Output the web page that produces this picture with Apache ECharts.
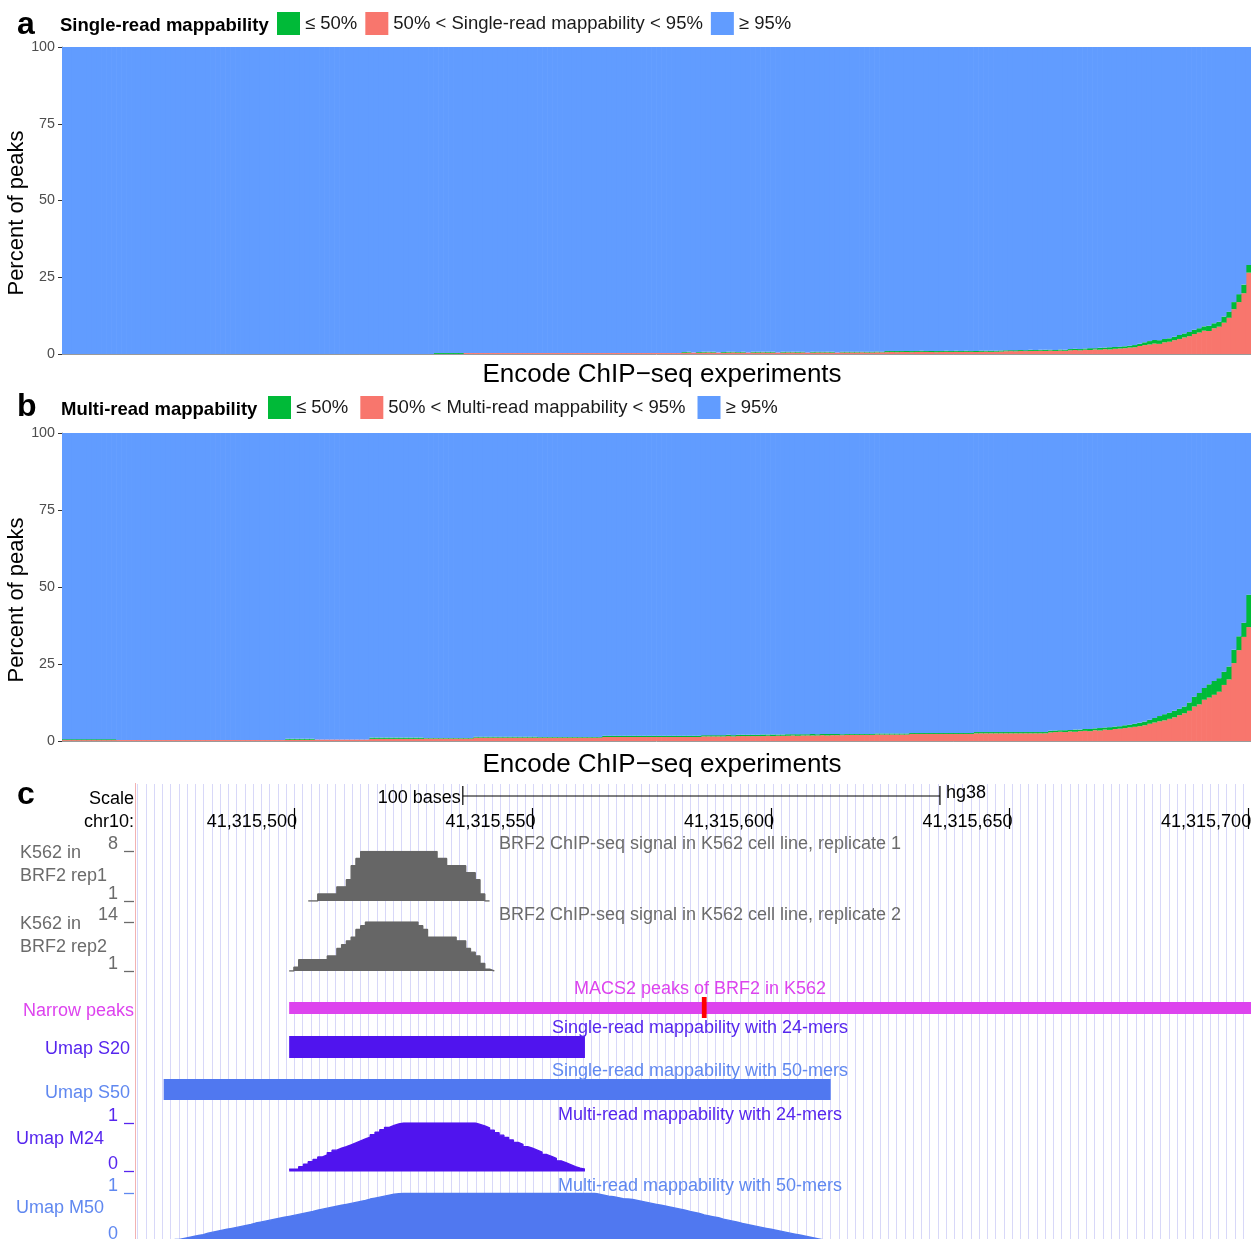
<!DOCTYPE html>
<html>
<head>
<meta charset="utf-8">
<script src="https://cdn.jsdelivr.net/npm/echarts@6/dist/echarts.min.js"></script>
<style>
  html, body { margin: 0; padding: 0; background: #ffffff; }
  #chart { width: 1251px; height: 1239px; }
</style>
</head>
<body>
<div id="chart"></div>
<script>
// ---------- Panel a: single-read mappability, percent of peaks per experiment ----------
// peaks with 50% < mappability < 95%
const singleMid = [
  0,0,0,0,0,0,0,0,0,0,0,0,0,0,0,0,0,0,0,0,
  0,0,0,0,0,0,0,0,0,0,0,0,0,0,0,0,0,0,0,0,
  0,0,0,0,0,0,0,0,0,0,0,0,0,0,0,0,0,0,0,0,
  0,0,0,0,0,0,0,0,0,0,0,0,0,0,0,0,0,0,0,0,
  0,0.3,0.3,0.3,0.3,0.3,0.3,0.3,0.3,0.3,0.3,0.3,0.3,0.3,0.3,0.3,0.3,0.3,0.3,0.3,
  0.3,0.3,0.3,0.3,0.3,0.3,0.3,0.3,0.3,0.3,0.3,0.3,0.3,0.3,0.3,0.3,0.3,0.3,0.3,0.3,
  0.3,0.3,0.3,0.3,0.3,0.4,0.45,0.45,0.4,0.45,0.5,0.45,0.45,0.4,0.45,0.5,0.45,0.45,0.5,0.45,
  0.45,0.5,0.45,0.45,0.5,0.45,0.5,0.5,0.45,0.5,0.5,0.45,0.5,0.5,0.5,0.45,0.5,0.5,0.5,0.5,
  0.5,0.55,0.5,0.5,0.55,0.55,0.6,0.65,0.6,0.65,0.65,0.6,0.65,0.7,0.65,0.65,0.6,0.65,0.7,0.65,
  0.7,0.65,0.7,0.7,0.65,0.7,0.75,0.7,0.75,0.8,0.9,0.95,0.9,1.0,0.95,1.0,1.0,1.05,1.0,1.1,
  1.0,1.1,1.05,1.2,1.3,1.2,1.4,1.3,1.5,1.4,1.6,1.5,1.7,1.8,1.9,2.1,2.2,2.6,2.9,3.1,
  3.4,3.3,3.8,4.0,4.5,4.9,5.4,5.8,6.5,7.0,7.6,7.5,8.4,8.9,10.2,11.8,14.6,16.9,19.8,26.5
];
// peaks with mappability <= 50%
const singleLow = [
  0,0,0,0,0,0,0,0,0,0,0,0,0,0,0,0,0,0,0,0,
  0,0,0,0,0,0,0,0,0,0,0,0,0,0,0,0,0,0,0,0,
  0,0,0,0,0,0,0,0,0,0,0,0,0,0,0,0,0,0,0,0,
  0,0,0,0,0,0,0,0,0,0,0,0,0,0,0,0.3,0.3,0.3,0.3,0.3,
  0.3,0,0,0,0,0,0,0,0,0,0,0,0,0,0,0,0,0,0,0,
  0,0,0,0,0,0,0,0,0,0,0,0,0,0,0,0,0,0,0,0,
  0,0,0,0,0,0.25,0.25,0,0.25,0.25,0.2,0.25,0,0.25,0.25,0.25,0.2,0.25,0,0.25,
  0.25,0.2,0.25,0.25,0,0.25,0.25,0.2,0.25,0.25,0,0.25,0.25,0.25,0.2,0.25,0,0.25,0.25,0.25,
  0.25,0.2,0.25,0.25,0.25,0.2,0.35,0.3,0.35,0.3,0.35,0.35,0.3,0.35,0.3,0.35,0.35,0.3,0.35,0.3,
  0.35,0.3,0.35,0.3,0.35,0.35,0.3,0.35,0.3,0.35,0.3,0.3,0.35,0.3,0.3,0.35,0.3,0.3,0.35,0.3,
  0.3,0.35,0.3,0.4,0.4,0.4,0.4,0.6,0.4,0.6,0.5,0.7,0.6,0.6,0.6,0.6,0.7,0.7,0.9,1.1,
  1.2,1.2,1.1,1.1,1.1,1.3,1.3,1.4,1.4,1.4,1.4,1.7,1.6,1.6,2.0,2.0,2.3,2.6,2.8,2.5
];

// ---------- Panel b: multi-read mappability, percent of peaks per experiment ----------
const multiMid = [
  0.3,0.3,0.3,0.3,0.3,0.3,0.3,0.3,0.3,0.3,0.3,0.3,0.3,0.3,0.3,0.3,0.3,0.3,0.3,0.3,
  0.3,0.3,0.3,0.3,0.3,0.3,0.3,0.3,0.3,0.3,0.3,0.3,0.3,0.3,0.3,0.3,0.3,0.3,0.3,0.3,
  0.3,0.3,0.3,0.3,0.3,0.4,0.4,0.4,0.4,0.4,0.4,0.5,0.5,0.5,0.5,0.5,0.5,0.5,0.5,0.5,
  0.5,0.5,0.7,0.7,0.7,0.7,0.7,0.7,0.7,0.7,0.7,0.7,0.7,0.8,0.8,0.8,0.8,0.8,0.8,0.8,
  0.8,0.8,0.8,1.1,1.1,1.1,1.1,1.1,1.1,1.1,1.1,1.1,1.1,1.1,1.1,1.1,1.1,1.1,1.1,1.1,
  1.1,1.1,1.1,1.1,1.1,1.1,1.1,1.1,1.1,1.3,1.3,1.3,1.3,1.3,1.3,1.3,1.3,1.3,1.3,1.3,
  1.3,1.3,1.3,1.3,1.3,1.3,1.3,1.3,1.3,1.5,1.5,1.5,1.5,1.5,1.6,1.5,1.6,1.6,1.6,1.6,
  1.6,1.6,1.7,1.6,1.7,1.7,1.7,1.8,1.7,1.8,1.8,1.8,1.8,1.9,1.8,1.9,1.9,1.9,2.0,2.0,
  2.0,2.0,2.0,2.0,2.1,2.1,2.1,2.1,2.1,2.1,2.1,2.3,2.3,2.3,2.3,2.3,2.3,2.3,2.3,2.3,
  2.3,2.3,2.3,2.3,2.5,2.5,2.5,2.5,2.5,2.5,2.5,2.5,2.5,2.5,2.5,2.5,2.5,2.5,2.5,2.8,
  2.9,3.0,2.9,3.1,3.0,3.2,3.3,3.2,3.5,3.4,3.7,3.6,3.9,4.0,4.2,4.4,4.6,4.8,5.1,5.6,
  6.0,6.4,6.7,7.2,7.7,8.4,9.0,9.8,11.2,11.9,13.4,14.1,15.0,16.0,18.2,20.0,25.3,29.5,33.8,37.0
];
const multiLow = [
  0.3,0.3,0.3,0.3,0.3,0.3,0.3,0.3,0.3,0.3,0.3,0,0,0,0,0,0,0,0,0,
  0,0,0,0,0,0,0,0,0,0,0,0,0,0,0,0,0,0,0,0,
  0,0,0,0,0,0.3,0.3,0.3,0.3,0.3,0.3,0,0,0,0,0,0,0,0,0,
  0,0,0.4,0.4,0.4,0.4,0.4,0.4,0.4,0.4,0.4,0.4,0.4,0.2,0.2,0.2,0.2,0.2,0.2,0.2,
  0.2,0.2,0.2,0.3,0.3,0.3,0.3,0.3,0.3,0.3,0.3,0.3,0.3,0.3,0.3,0.3,0.2,0.2,0.2,0.2,
  0.2,0.2,0.2,0.2,0.2,0.2,0.2,0.2,0.2,0.4,0.4,0.4,0.4,0.4,0.4,0.4,0.4,0.4,0.4,0.4,
  0.4,0.4,0.4,0.4,0.4,0.4,0.4,0.4,0.4,0.4,0.4,0.4,0.4,0.4,0.4,0.4,0.4,0.4,0.4,0.4,
  0.4,0.5,0.4,0.5,0.4,0.4,0.5,0.4,0.5,0.4,0.4,0.5,0.4,0.4,0.5,0.4,0.4,0.3,0.3,0.3,
  0.3,0.3,0.3,0.3,0.35,0.35,0.35,0.35,0.35,0.35,0.35,0.3,0.3,0.3,0.3,0.3,0.3,0.3,0.3,0.3,
  0.3,0.3,0.3,0.3,0.4,0.4,0.4,0.4,0.4,0.4,0.4,0.4,0.4,0.4,0.4,0.4,0.4,0.4,0.4,0.5,
  0.5,0.5,0.6,0.5,0.7,0.5,0.6,0.7,0.6,0.8,0.7,0.9,0.8,0.8,0.9,0.9,1.0,1.1,1.2,1.3,
  1.5,1.7,2.0,2.0,2.1,2.1,2.2,2.7,3.2,3.7,3.8,4.3,4.5,4.4,4.3,4.2,4.3,4.5,4.6,10.5
];
const percentTicks = [0, 25, 50, 75, 100];

// ---------- Panel c: genome browser view, chr10 ----------
const chromName = 'chr10:';
const viewRange = [41315466.9, 41315700.6];
const rulerPositions = [41315500, 41315550, 41315600, 41315650, 41315700];
const scaleBar = { start: 41315535.4, bases: 100, assembly: 'hg38' };
// BRF2 ChIP-seq signal, runs of [start, end, value]
const rep1Signal = [
  [41315503,41315505,1],[41315505,41315509,2],[41315509,41315511,3],[41315511,41315512,4],
  [41315512,41315513,6],[41315513,41315514,7],[41315514,41315530,8],[41315530,41315532,7],
  [41315532,41315536,6],[41315536,41315538,5],[41315538,41315539,4],[41315539,41315540,2],
  [41315540,41315541,1]
];
const rep2Signal = [
  [41315499,41315500,1],[41315500,41315501,2],[41315501,41315507,4],[41315507,41315509,5],
  [41315509,41315510,7],[41315510,41315511,8],[41315511,41315512,9],[41315512,41315513,10],
  [41315513,41315514,12],[41315514,41315515,13],[41315515,41315526,14],[41315526,41315527,13],
  [41315527,41315528,12],[41315528,41315534,10],[41315534,41315536,9],[41315536,41315537,7],
  [41315537,41315538,6],[41315538,41315539,5],[41315539,41315540,3],[41315540,41315541,1.5],
  [41315541,41315542,1]
];
const rep1Scale = [1, 8];
const rep2Scale = [1, 14];
// MACS2 narrow peak and its summit
const narrowPeak = [41315499, 41315760];
const peakSummit = [41315585.5, 41315586.5];
// Umap single-read mappable regions
const umapS20 = [[41315499, 41315561]];
const umapS50 = [[41315472.7, 41315612.5]];
// Umap multi-read mappability, one value per base
const umapM24Start = 41315499;
const umapM24 = [
  0.05,0.05,0.10,0.15,0.20,0.25,0.30,0.34,0.39,0.44,0.48,0.51,0.55,0.59,0.63,0.67,0.71,0.76,0.81,0.86,0.91,0.95,0.98,
  1,1,1,1,1,1,1,1,1,1,1,1,1,1,1,1,
  0.97,0.94,0.90,0.85,0.80,0.75,0.70,0.65,0.60,0.56,0.51,0.48,0.44,0.40,0.35,0.31,0.27,0.22,0.18,0.14,0.10,0.07,0.05
];
const umapM50Start = 41315475;
const umapM50 = [
  0.04,0.06,0.08,0.10,0.12,0.14,0.17,0.19,0.21,0.23,0.25,0.27,0.29,0.31,0.33,0.35,0.38,0.40,0.42,0.44,0.46,0.48,0.50,0.52,
  0.54,0.56,0.58,0.60,0.62,0.65,0.67,0.69,0.71,0.73,0.75,0.77,0.79,0.81,0.83,0.85,0.88,0.90,0.92,0.94,0.96,0.98,0.99,
  1,1,1,1,1,1,1,1,1,1,1,1,1,1,1,1,1,1,1,1,1,1,1,1,1,1,1,1,1,1,1,1,1,1,1,1,1,1,1,1,1,
  0.98,0.96,0.94,0.93,0.91,0.89,0.88,0.87,0.85,0.83,0.81,0.79,0.77,0.75,0.73,0.71,0.69,0.67,0.65,0.62,0.60,0.58,0.55,0.53,
  0.51,0.49,0.46,0.44,0.42,0.40,0.37,0.35,0.33,0.31,0.29,0.27,0.25,0.23,0.21,0.19,0.17,0.15,0.13,0.11,0.09,0.07,0.05,0.03
];

// ---------- styling ----------
const FF = '"Liberation Sans", Arial, Helvetica, sans-serif';
const C = {
  low: '#00BA38', mid: '#F8766D', high: '#619CFF',
  grey: '#666666', greyText: '#6b6b6b',
  magenta: '#dd44ee', purple: '#5014ee', purpleText: '#5626ee',
  blue: '#5078f0', blueText: '#6088f0', guide: '#d8d8f8'
};

const experiments = singleMid.map((_, i) => 'E' + (i + 1));

function stackSeries(axisIdx, mid, low, midName) {
  const high = mid.map((m, i) => +(100 - m - low[i]).toFixed(2));
  const mk = (name, data, color) => ({
    type: 'bar', name, data, xAxisIndex: axisIdx, yAxisIndex: axisIdx,
    stack: 'panel' + axisIdx, barWidth: 5.6, silent: true,
    itemStyle: { color }
  });
  return [mk(midName, mid, C.mid), mk('≤ 50%', low, C.low), mk('≥ 95%', high, C.high)];
}

function percentAxes(gridIndex) {
  return {
    x: {
      type: 'category', gridIndex, data: experiments, boundaryGap: true,
      axisLine: { show: true, lineStyle: { color: '#9a9a9a', width: 1 } },
      axisTick: { show: false }, axisLabel: { show: false }
    },
    y: {
      type: 'value', gridIndex, min: percentTicks[0], max: percentTicks[percentTicks.length - 1], interval: 25,
      axisLine: { show: true, lineStyle: { color: '#9a9a9a', width: 1 } },
      axisTick: { show: true, length: 4, lineStyle: { color: '#333333', width: 1 } },
      axisLabel: { fontSize: 14.3, color: '#4d4d4d', margin: 7, fontFamily: FF },
      splitLine: { show: false }
    }
  };
}

const trackGrid = (top, height) => ({ left: 136, top, width: 1115, height, outerBoundsMode: 'none' });
const hiddenX = (gridIndex) => ({ type: 'value', gridIndex, min: viewRange[0], max: viewRange[1], show: false });

function trackY(gridIndex, range, color, withLabels) {
  return {
    type: 'value', gridIndex, min: range[0], max: range[1], interval: range[1] - range[0],
    position: 'left', offset: 2,
    axisLine: { show: false },
    axisTick: { show: withLabels, length: 10, customValues: range, lineStyle: { color, width: 1.3 } },
    axisLabel: {
      show: withLabels, customValues: range, margin: 16, fontSize: 18, color, fontFamily: FF,
      verticalAlign: 'bottom', lineHeight: 14, showMinLabel: true, showMaxLabel: true
    },
    splitLine: { show: false }
  };
}

function stepPoints(runs) {
  const pts = runs.map(r => [r[0], r[2]]);
  const last = runs[runs.length - 1];
  pts.push([last[1], last[2]]);
  return pts;
}
function perBaseRuns(start, values) {
  return values.map((v, k) => [start + k, start + k + 1, v]);
}
function stepSeries(gridIndex, runs, color) {
  return {
    type: 'line', xAxisIndex: gridIndex, yAxisIndex: gridIndex, data: stepPoints(runs),
    step: 'end', symbol: 'none', silent: true,
    lineStyle: { color, width: 1.4 }, areaStyle: { color, opacity: 1 }
  };
}
function blockSeries(gridIndex, intervals, color, padTop, padBottom, z) {
  return {
    type: 'custom', xAxisIndex: gridIndex, yAxisIndex: gridIndex, data: intervals, silent: true, z: z || 2,
    clip: false,
    renderItem(params, api) {
      const cs = params.coordSys;
      let x0 = api.coord([api.value(0), 0])[0];
      let x1 = api.coord([api.value(1), 0])[0];
      x0 = Math.max(x0, cs.x);
      x1 = Math.min(x1, cs.x + cs.width);
      return {
        type: 'rect',
        shape: { x: x0, y: cs.y - padTop, width: x1 - x0, height: cs.height + padTop + padBottom },
        style: { fill: color }
      };
    }
  };
}

const axA = percentAxes(0), axB = percentAxes(1);

function txt(text, x, y, size, color, align, extra) {
  const weight = (extra && extra.bold) ? 'bold ' : '';
  return Object.assign({
    type: 'text', x, y: y + 2, silent: true, z: 10,
    style: {
      text, fill: color, font: weight + size + 'px ' + FF,
      align: align || 'left', verticalAlign: 'middle',
      textAlign: align || 'left', textVerticalAlign: 'middle'
    }
  }, extra && extra.rotation ? { rotation: extra.rotation } : {});
}

const legendCommon = {
  icon: 'rect', itemWidth: 23, itemHeight: 23, selectedMode: false, orient: 'horizontal',
  textStyle: { fontSize: 18.5, color: '#1a1a1a', fontFamily: FF }, padding: 0
};

const formatPos = v => String(Math.round(v)).replace(/\B(?=(\d{3})+(?!\d))/g, ',');

const option = {
  animation: false,
  backgroundColor: '#ffffff',
  textStyle: { fontFamily: FF },
  legend: [
    Object.assign({}, legendCommon, { left: 277, top: 12, itemGap: 8,
      data: ['≤ 50%', '50% < Single-read mappability < 95%', '≥ 95%'] }),
    Object.assign({}, legendCommon, { left: 268, top: 396, itemGap: 12,
      data: ['≤ 50%', '50% < Multi-read mappability < 95%', '≥ 95%'] })
  ],
  grid: [
    { left: 62, top: 47, width: 1189, height: 307, outerBoundsMode: 'none' },
    { left: 62, top: 433, width: 1189, height: 308, outerBoundsMode: 'none' },
    { left: 137.5, top: 784, width: 1113.75, height: 455, outerBoundsMode: 'none' }, // base guidelines
    trackGrid(808, 21),      // ruler
    trackGrid(851.5, 49.5),  // rep1
    trackGrid(922, 49),      // rep2
    trackGrid(1002, 12),     // narrow peaks
    trackGrid(1036, 22),     // Umap S20
    trackGrid(1079, 21),     // Umap S50
    trackGrid(1123, 48.5),   // Umap M24
    trackGrid(1193.3, 48)    // Umap M50
  ],
  xAxis: [
    axA.x, axB.x,
    { type: 'value', gridIndex: 2, min: 0, max: 135, interval: 1,
      axisLine: { show: false }, axisTick: { show: false }, axisLabel: { show: false },
      splitLine: { show: true, lineStyle: { color: C.guide, width: 1 } } },
    { type: 'value', gridIndex: 3, min: viewRange[0], max: viewRange[1], position: 'bottom',
      axisLine: { show: false },
      axisTick: { show: true, inside: true, length: 21, customValues: rulerPositions,
        lineStyle: { color: '#000000', width: 1.2 } },
      axisLabel: { show: false },
      splitLine: { show: false } },
    hiddenX(4), hiddenX(5), hiddenX(6), hiddenX(7), hiddenX(8), hiddenX(9), hiddenX(10)
  ],
  yAxis: [
    axA.y, axB.y,
    { type: 'value', gridIndex: 2, min: 0, max: 1, show: false },
    { type: 'value', gridIndex: 3, min: 0, max: 1, show: false },
    trackY(4, rep1Scale, C.greyText, true),
    trackY(5, rep2Scale, C.greyText, true),
    { type: 'value', gridIndex: 6, min: 0, max: 1, show: false },
    { type: 'value', gridIndex: 7, min: 0, max: 1, show: false },
    { type: 'value', gridIndex: 8, min: 0, max: 1, show: false },
    trackY(9, [0, 1], C.purpleText, true),
    trackY(10, [0, 1], C.blueText, true)
  ],
  series: [
    ...stackSeries(0, singleMid, singleLow, '50% < Single-read mappability < 95%'),
    ...stackSeries(1, multiMid, multiLow, '50% < Multi-read mappability < 95%'),
    // ruler position labels, ending on their tick marks
    {
      type: 'custom', xAxisIndex: 3, yAxisIndex: 3, silent: true, clip: false, z: 5,
      data: rulerPositions.map(p => [p]),
      renderItem(params, api) {
        const cs = params.coordSys;
        const x = api.coord([api.value(0), 0])[0];
        return { type: 'text', x: x + 3, y: cs.y + 14,
          style: { text: formatPos(api.value(0)), font: '18px ' + FF, fill: '#000',
            align: 'right', verticalAlign: 'middle' } };
      }
    },
    // scale bar
    {
      type: 'custom', xAxisIndex: 3, yAxisIndex: 3, silent: true, clip: false, z: 5,
      data: [[scaleBar.start, scaleBar.start + scaleBar.bases]],
      renderItem(params, api) {
        const cs = params.coordSys;
        const x0 = api.coord([api.value(0), 0])[0];
        const x1 = api.coord([api.value(1), 0])[0];
        const y = cs.y - 12;
        const font = '18px ' + FF;
        return {
          type: 'group', children: [
            { type: 'line', shape: { x1: x0, y1: y, x2: x1, y2: y }, style: { stroke: '#000', lineWidth: 1 } },
            { type: 'line', shape: { x1: x0, y1: y - 10, x2: x0, y2: y + 9 }, style: { stroke: '#000', lineWidth: 1.2 } },
            { type: 'line', shape: { x1: x1, y1: y - 10, x2: x1, y2: y + 9 }, style: { stroke: '#000', lineWidth: 1.2 } },
            { type: 'text', x: x0 - 2, y: y + 2, style: { text: scaleBar.bases + ' bases', font, fill: '#000',
              align: 'right', verticalAlign: 'middle' } },
            { type: 'text', x: x1 + 6, y: y - 3, style: { text: scaleBar.assembly, font, fill: '#000',
              align: 'left', verticalAlign: 'middle' } }
          ]
        };
      }
    },
    stepSeries(4, rep1Signal, C.grey),
    stepSeries(5, rep2Signal, C.grey),
    blockSeries(6, [narrowPeak], C.magenta, 0, 0, 2),
    blockSeries(6, [peakSummit], '#ff0000', 5, 4, 3),
    blockSeries(7, umapS20, C.purple, 0, 0, 2),
    blockSeries(8, umapS50, C.blue, 0, 0, 2),
    stepSeries(9, perBaseRuns(umapM24Start, umapM24), C.purple),
    stepSeries(10, perBaseRuns(umapM50Start, umapM50), C.blue)
  ],
  graphic: { elements: [
    // panel a
    txt('a', 17, 23, 32, '#000', 'left', { bold: true }),
    txt('Single-read mappability', 60, 24, 18.5, '#000', 'left', { bold: true }),
    txt('Percent of peaks', 17, 211, 22, '#000', 'center', { rotation: Math.PI / 2 }),
    txt('Encode ChIP\u2212seq experiments', 662, 373, 26, '#000', 'center'),
    // panel b
    txt('b', 17, 405, 32, '#000', 'left', { bold: true }),
    txt('Multi-read mappability', 61, 408, 18.5, '#000', 'left', { bold: true }),
    txt('Percent of peaks', 17, 598, 22, '#000', 'center', { rotation: Math.PI / 2 }),
    txt('Encode ChIP\u2212seq experiments', 662, 763, 26, '#000', 'center'),
    // panel c
    txt('c', 17, 793, 32, '#000', 'left', { bold: true }),
    { type: 'line', silent: true, z: 1, shape: { x1: 135.5, y1: 783, x2: 135.5, y2: 1239 },
      style: { stroke: '#f2b2b2', lineWidth: 1 } },
    txt('Scale', 134, 797, 18, '#000', 'right'),
    txt(chromName, 134, 820, 18, '#000', 'right'),
    txt('K562 in', 20, 851, 18, C.greyText, 'left'),
    txt('BRF2 rep1', 20, 874, 18, C.greyText, 'left'),
    txt('K562 in', 20, 922, 18, C.greyText, 'left'),
    txt('BRF2 rep2', 20, 945, 18, C.greyText, 'left'),
    txt('Narrow peaks', 134, 1009, 18, C.magenta, 'right'),
    txt('Umap S20', 130, 1047, 18, C.purpleText, 'right'),
    txt('Umap S50', 130, 1091, 18, C.blueText, 'right'),
    txt('Umap M24', 16, 1137, 18, C.purpleText, 'left'),
    txt('Umap M50', 16, 1206, 18, C.blueText, 'left'),
    txt('BRF2 ChIP-seq signal in K562 cell line, replicate 1', 700, 842, 18, C.greyText, 'center'),
    txt('BRF2 ChIP-seq signal in K562 cell line, replicate 2', 700, 913, 18, C.greyText, 'center'),
    txt('MACS2 peaks of BRF2 in K562', 700, 987, 18, C.magenta, 'center'),
    txt('Single-read mappability with 24-mers', 700, 1026, 18, C.purpleText, 'center'),
    txt('Single-read mappability with 50-mers', 700, 1069, 18, C.blueText, 'center'),
    txt('Multi-read mappability with 24-mers', 700, 1113, 18, C.purpleText, 'center'),
    txt('Multi-read mappability with 50-mers', 700, 1184, 18, C.blueText, 'center')
  ] }
};

const chart = echarts.init(document.getElementById('chart'), null, { width: 1251, height: 1239, renderer: 'canvas' });
chart.setOption(option);
</script>
</body>
</html>
